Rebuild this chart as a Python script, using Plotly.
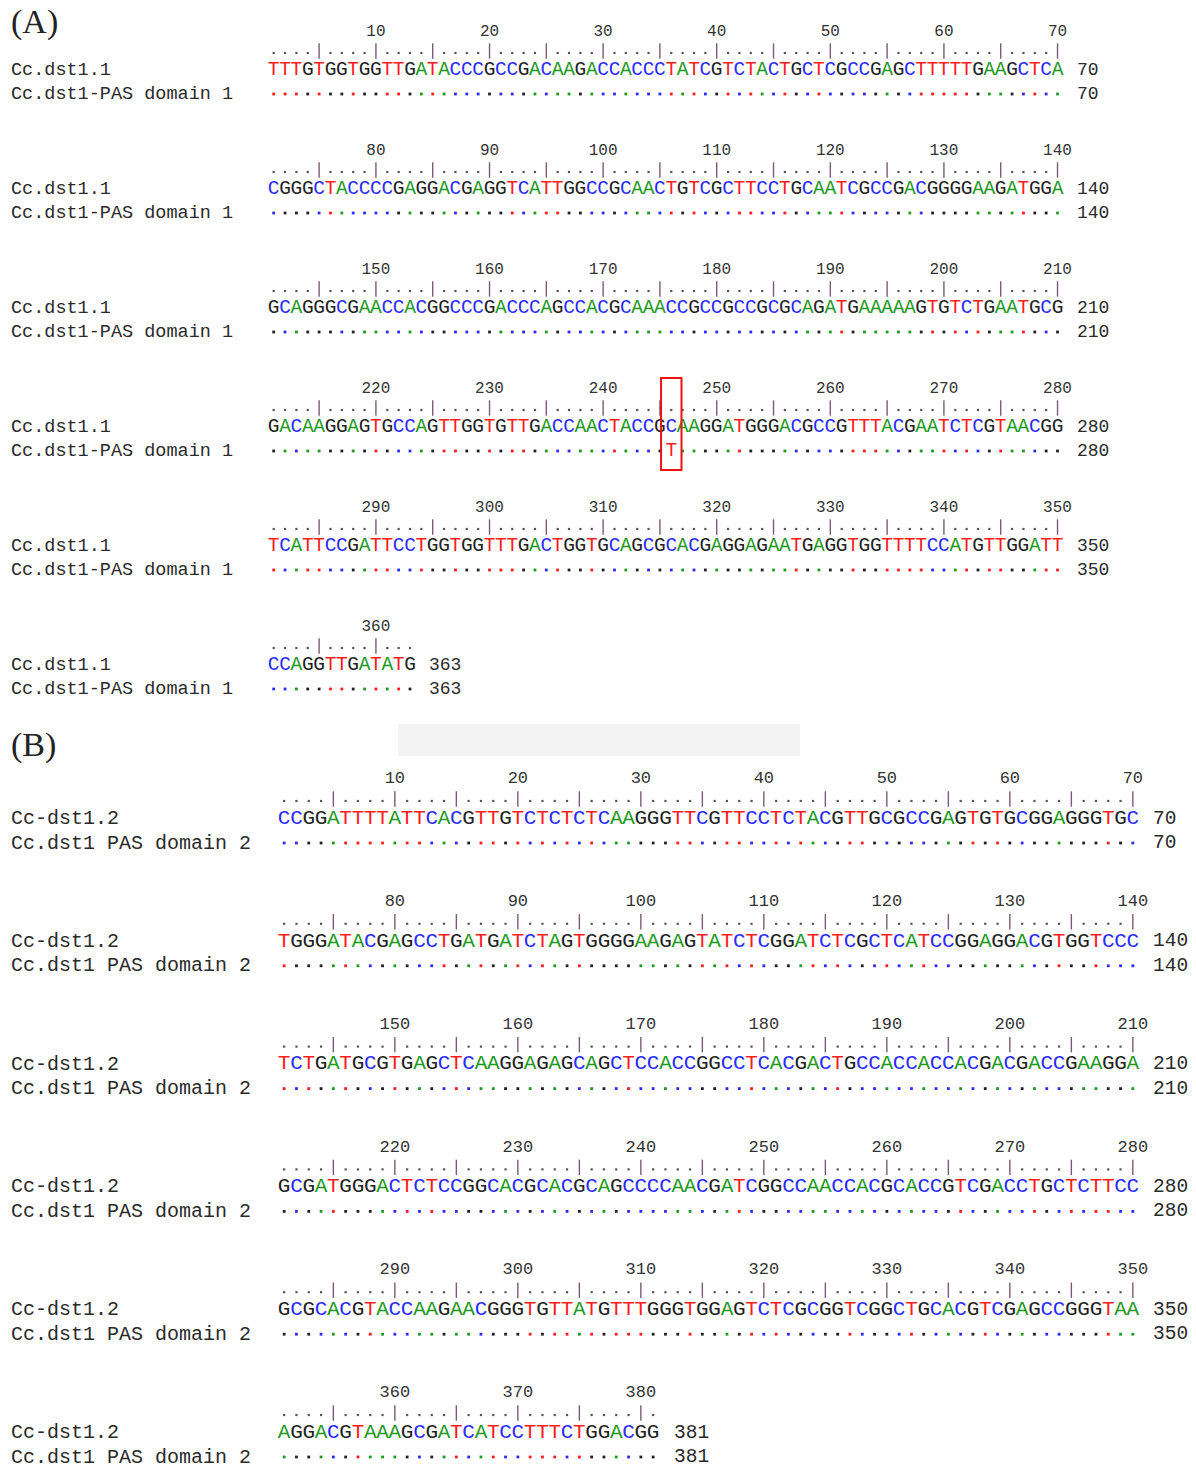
import plotly.graph_objects as go

# ---------------- data ----------------
A_label = "(A)"
A_query_name = "Cc.dst1.1"
A_subject_name = "Cc.dst1-PAS domain 1"
A_rows = [
    "TTTGTGGTGGTTGATACCCGCCGACAAGACCACCCTATCGTCTACTGCTCGCCGAGCTTTTTGAAGCTCA",
    "CGGGCTACCCCGAGGACGAGGTCATTGGCCGCAACTGTCGCTTCCTGCAATCGCCGACGGGGAAGATGGA",
    "GCAGGGCGAACCACGGCCCGACCCAGCCACGCAAACCGCCGCCGCGCAGATGAAAAAGTGTCTGAATGCG",
    "GACAAGGAGTGCCAGTTGGTGTTGACCAACTACCGCAAGGATGGGACGCCGTTTACGAATCTCGTAACGG",
    "TCATTCCGATTCCTGGTGGTTTGACTGGTGCAGCGCACGAGGAGAATGAGGTGGTTTTCCATGTTGGATT",
    "CCAGGTTGATATG",
]
A_mismatch_pos = [246]
A_mismatch_base = ["T"]

B_label = "(B)"
B_query_name = "Cc-dst1.2"
B_subject_name = "Cc.dst1 PAS domain 2"
B_rows = [
    "CCGGATTTTATTCACGTTGTCTCTCTCAAGGGTTCGTTCCTCTACGTTGCGCCGAGTGTGCGGAGGGTGC",
    "TGGGATACGAGCCTGATGATCTAGTGGGGAAGAGTATCTCGGATCTCGCTCATCCGGAGGACGTGGTCCC",
    "TCTGATGCGTGAGCTCAAGGAGAGCAGCTCCACCGGCCTCACGACTGCCACCACCACGACGACCGAAGGA",
    "GCGATGGGACTCTCCGGCACGCACGCAGCCCCAACGATCGGCCAACCACGCACCGTCGACCTGCTCTTCC",
    "GCGCACGTACCAAGAACGGGTGTTATGTTTGGGTGGAGTCTCGCGGTCGGCTGCACGTCGAGCCGGGTAA",
    "AGGACGTAAAGCGATCATCCTTTCTGGACGG",
]
B_mismatch_pos = []
B_mismatch_base = []

ROW_LEN = 70

# ---------------- styles ----------------
BASE_COLORS = {"A": "#1e9a1e", "C": "#2b2bff", "G": "#222222", "T": "#ff1c1c"}
MONO = "Liberation Mono, Courier New, monospace"
SERIF = "Liberation Serif, DejaVu Serif, serif"
PAGE_MARGIN = 8  # default body margin of the html page
LEFT_X = 8.5

panels = [
    dict(label=A_label, qname=A_query_name, sname=A_subject_name, rows=A_rows,
         mm_pos=A_mismatch_pos, mm_base=A_mismatch_base,
         x0=268.0, cw=11.36, y_first=32.0, block=119.0,
         d_ruler=19.0, d_seq=38.0, d_dots=62.0,
         f_seq=19.5, f_num=16, f_name=18.5, f_end=18, label_y=22, box=True),
    dict(label=B_label, qname=B_query_name, sname=B_subject_name, rows=B_rows,
         mm_pos=B_mismatch_pos, mm_base=B_mismatch_base,
         x0=278.0, cw=12.3, y_first=779.0, block=122.8,
         d_ruler=20.0, d_seq=39.5, d_dots=64.0,
         f_seq=21, f_num=17, f_name=20, f_end=19.5, label_y=745, box=False),
]

fig = go.Figure()
annotations = []
shapes = []

# faint background smudge between the panels
shapes.append(dict(type="rect", xref="x", yref="y", x0=398, x1=800, y0=724, y1=756,
                   fillcolor="#f4f4f4", line=dict(width=0), layer="below"))

for p in panels:
    x0, cw = p["x0"], p["cw"]
    seq_pts = {b: ([], [], []) for b in BASE_COLORS}
    dot_pts = {b: ([], []) for b in BASE_COLORS}
    rdot_x, rdot_y, tick_x, tick_y = [], [], [], []
    num_x, num_y, num_t = [], [], []
    mm_x, mm_y, mm_t = [], [], []

    for bi, row in enumerate(p["rows"]):
        ytop = p["y_first"] + bi * p["block"]
        y_r = ytop + p["d_ruler"]
        y_s = ytop + p["d_seq"]
        y_d = ytop + p["d_dots"]
        start = bi * ROW_LEN
        for i, base in enumerate(row):
            col = i + 1
            pos = start + col
            xc = x0 + (i + 0.5) * cw
            # ruler
            if col % 5 == 0:
                tick_x.append(xc); tick_y.append(y_r)
            else:
                rdot_x.append(xc); rdot_y.append(y_r + 2)
            if col % 10 == 0:
                num_x.append(xc); num_y.append(ytop); num_t.append(str(pos))
            # query sequence
            sx, sy, st = seq_pts[base]
            sx.append(xc); sy.append(y_s); st.append(base)
            # subject line
            if pos in p["mm_pos"]:
                mm_x.append(xc); mm_y.append(y_d)
                mm_t.append(p["mm_base"][p["mm_pos"].index(pos)])
                if p["box"]:
                    shapes.append(dict(type="rect", xref="x", yref="y",
                                       x0=xc - 0.9 * cw, x1=xc + 0.9 * cw,
                                       y0=ytop - 11, y1=y_d + 19,
                                       line=dict(color="#ee1111", width=2)))
            else:
                dx, dy = dot_pts[base]
                dx.append(xc); dy.append(y_d)
        # names and end numbers
        end_x = x0 + (len(row) + 1) * cw
        for yy, nm in ((y_s, p["qname"]), (y_d, p["sname"])):
            annotations.append(dict(x=LEFT_X, y=yy, xref="x", yref="y", text=nm, showarrow=False,
                                    xanchor="left", yanchor="middle",
                                    font=dict(family=MONO, size=p["f_name"], color="#2a2a2a")))
            annotations.append(dict(x=end_x, y=yy, xref="x", yref="y", text=str(start + len(row)),
                                    showarrow=False, xanchor="left", yanchor="middle",
                                    font=dict(family=MONO, size=p["f_end"], color="#2a2a2a")))

    # ruler dots and ticks
    fig.add_trace(go.Scatter(x=rdot_x, y=rdot_y, mode="markers", hoverinfo="skip",
                             marker=dict(symbol="square", size=2.2, color="#555555")))
    fig.add_trace(go.Scatter(x=tick_x, y=tick_y, mode="markers", hoverinfo="skip",
                             marker=dict(symbol="line-ns", size=11,
                                         line=dict(color="#7a5a7a", width=1.4))))
    fig.add_trace(go.Scatter(x=num_x, y=num_y, mode="text", text=num_t, hoverinfo="skip",
                             textposition="middle center",
                             textfont=dict(family=MONO, size=p["f_num"], color="#333333")))
    for base, col in BASE_COLORS.items():
        sx, sy, st = seq_pts[base]
        fig.add_trace(go.Scatter(x=sx, y=sy, mode="text", text=st, hoverinfo="skip",
                                 textposition="middle center",
                                 textfont=dict(family=MONO, size=p["f_seq"], color=col)))
        dx, dy = dot_pts[base]
        fig.add_trace(go.Scatter(x=dx, y=dy, mode="markers", hoverinfo="skip",
                                 marker=dict(symbol="square", size=2.8, color=col)))
    if mm_x:
        fig.add_trace(go.Scatter(x=mm_x, y=mm_y, mode="text", text=mm_t, hoverinfo="skip",
                                 textposition="middle center",
                                 textfont=dict(family=MONO, size=p["f_seq"], color="#ff1c1c")))
    annotations.append(dict(x=LEFT_X, y=p["label_y"], xref="x", yref="y", text=p["label"],
                            showarrow=False, xanchor="left", yanchor="middle",
                            font=dict(family=SERIF, size=34, color="#222222")))

W, H = 1196, 1468
fig.update_layout(
    width=W - PAGE_MARGIN, height=H - PAGE_MARGIN,
    margin=dict(l=0, r=0, t=0, b=0),
    paper_bgcolor="white", plot_bgcolor="white",
    showlegend=False,
    xaxis=dict(range=[PAGE_MARGIN, W], visible=False, fixedrange=True),
    yaxis=dict(range=[H, PAGE_MARGIN], visible=False, fixedrange=True),
    annotations=annotations, shapes=shapes,
)
fig.write_html("out.html")
